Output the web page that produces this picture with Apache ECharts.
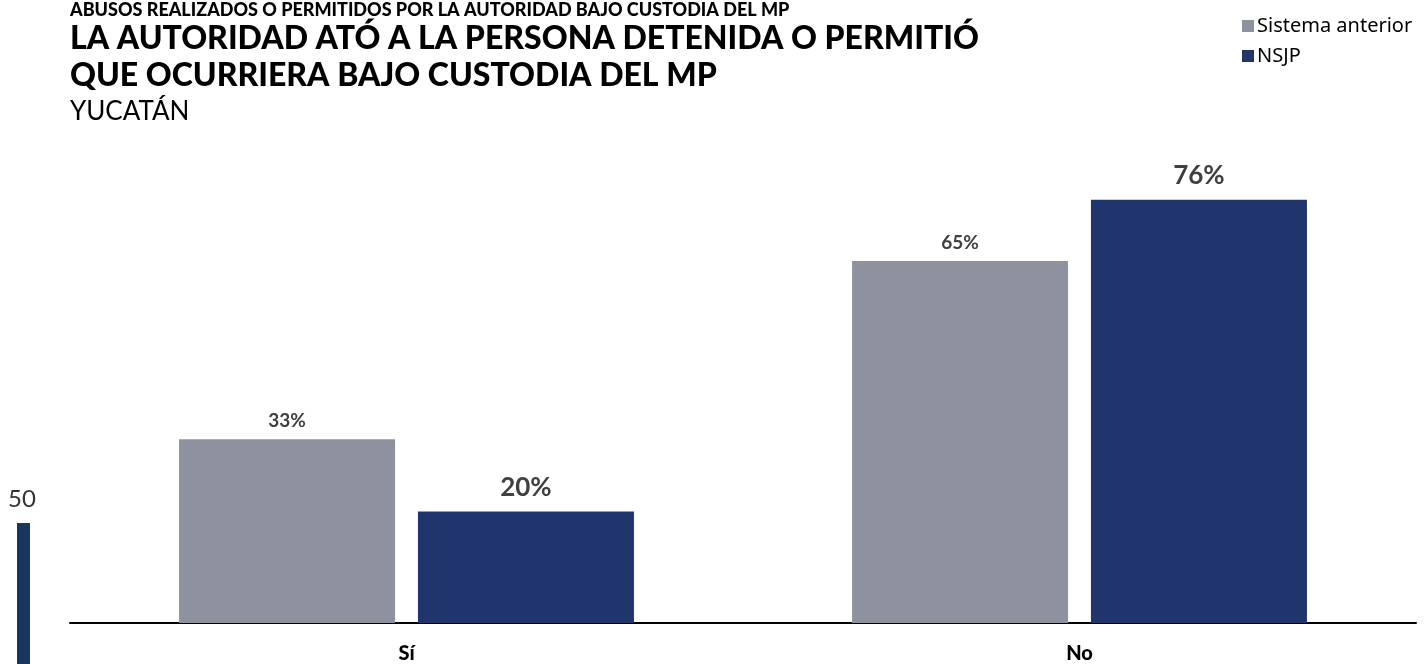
<!DOCTYPE html>
<html>
<head>
<meta charset="utf-8">
<style>
  html, body { margin: 0; padding: 0; background: #fff; }
  #chart { width: 1425px; height: 664px; }
</style>
<script src="https://cdn.jsdelivr.net/npm/echarts@6/dist/echarts.min.js"></script>
</head>
<body>
<div id="chart"></div>
<script>
// Categories and series values (percent)
const categories = ['Sí', 'No'];
const seriesNames = ['Sistema anterior', 'NSJP'];
const sistemaAnterior = [33, 65];
const nsjp = [20, 76];
const seriesColors = ['#8e929e', '#1f356b'];

const FONT = 'Lato, "Noto Sans", sans-serif';

const chart = echarts.init(document.getElementById('chart'), null, { renderer: 'canvas' });

chart.setOption({
  backgroundColor: '#ffffff',
  animation: false,
  textStyle: { fontFamily: FONT },
  title: [
    {
      text: 'ABUSOS REALIZADOS O PERMITIDOS POR LA AUTORIDAD BAJO CUSTODIA DEL MP',
      left: 65, top: -4,
      textStyle: { fontSize: 18, fontWeight: 900, color: '#000', fontFamily: FONT }
    },
    {
      text: 'LA AUTORIDAD ATÓ A LA PERSONA DETENIDA O PERMITIÓ\nQUE OCURRIERA BAJO CUSTODIA DEL MP',
      left: 65, top: 15,
      textStyle: { fontSize: 32, fontWeight: 900, color: '#000', lineHeight: 37, fontFamily: FONT }
    },
    {
      text: 'YUCATÁN',
      left: 65, top: 94,
      textStyle: { fontSize: 26, fontWeight: 'normal', color: '#000', fontFamily: FONT }
    }
  ],
  legend: {
    orient: 'vertical',
    left: 1237, top: 11,
    itemWidth: 12, itemHeight: 12,
    itemGap: 10,
    icon: 'rect',
    textStyle: { fontSize: 20, color: '#000', fontFamily: '"Noto Sans", sans-serif', padding: [0, 0, 0, -2] },
    data: seriesNames
  },
  grid: { left: 70, right: 9, top: 66, bottom: 36, containLabel: false },
  xAxis: {
    type: 'category',
    data: categories,
    axisLine: { show: true, lineStyle: { color: '#000', width: 2 } },
    axisTick: { show: false },
    axisLabel: { fontSize: 20, fontWeight: 900, color: '#000', margin: 21, fontFamily: FONT }
  },
  yAxis: {
    type: 'value',
    min: 0, max: 100,
    show: false,
    splitLine: { show: false }
  },
  series: [
    {
      name: seriesNames[0],
      type: 'bar',
      data: sistemaAnterior,
      barWidth: 216,
      barGap: '10.6%',
      itemStyle: { color: seriesColors[0] },
      label: {
        show: true, position: 'top', distance: 9,
        formatter: p => p.value + '%',
        fontSize: 19, fontWeight: 'bold', color: '#404040', fontFamily: FONT
      }
    },
    {
      name: seriesNames[1],
      type: 'bar',
      data: nsjp,
      barWidth: 216,
      itemStyle: { color: seriesColors[1] },
      label: {
        show: true, position: 'top', distance: 11,
        formatter: p => p.value + '%',
        fontSize: 26, fontWeight: 'bold', color: '#404040', fontFamily: FONT
      }
    }
  ],
  graphic: [
    {
      type: 'text', left: 8, top: 487,
      style: { text: '50', fontSize: 24, fill: '#333', fontFamily: FONT }
    },
    {
      type: 'rect', left: 17, top: 523,
      shape: { width: 13, height: 141 },
      style: { fill: '#17375e' }
    }
  ]
});
</script>
</body>
</html>
